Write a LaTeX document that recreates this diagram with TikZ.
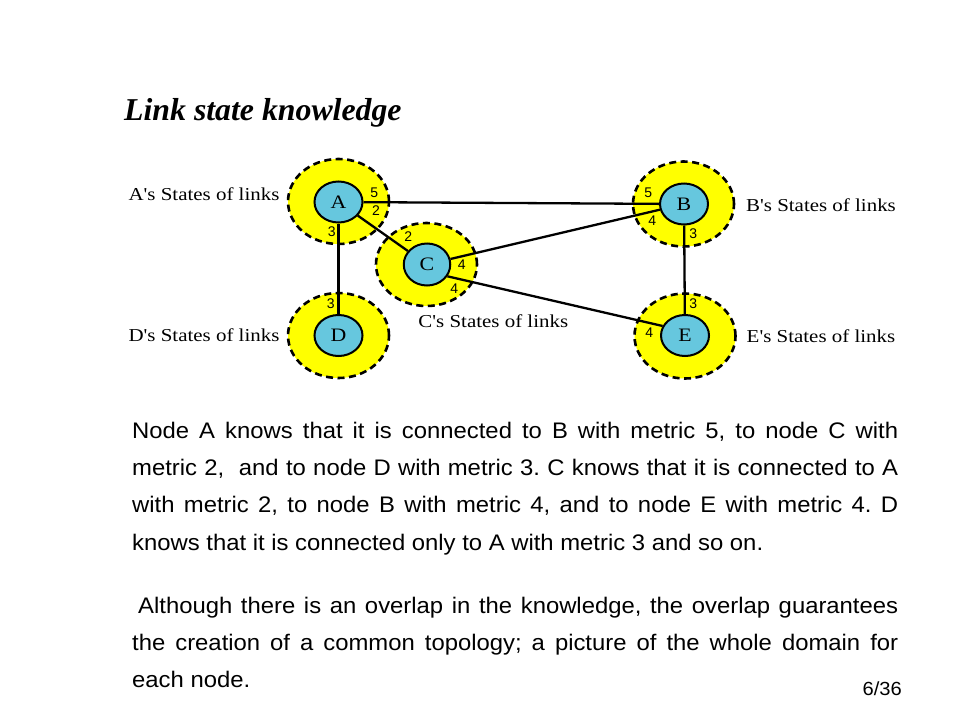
\documentclass[tikz,border=0pt]{standalone}
\usepackage{fontspec}
\setmainfont{Liberation Sans}
\newfontfamily\bodyfont[FakeStretch=1.06]{Liberation Sans}
\newfontfamily\figserif[FakeStretch=1.15, Ligatures=TeXOff]{Liberation Serif}
\newfontfamily\figsans{Liberation Sans}
\newfontfamily\titlefont{Liberation Serif}
\usetikzlibrary{shapes.geometric}

\definecolor{zoneyellow}{RGB}{255,255,0}
\definecolor{routerblue}{RGB}{102,199,222}

\begin{document}
\frenchspacing
\begin{tikzpicture}[x=1pt,y=-1pt,
  zone/.style={ellipse, fill=zoneyellow, draw=black, line width=2.6pt,
    dash pattern=on 7pt off 4.5pt, inner sep=0pt,
    minimum width=101pt, minimum height=85pt},
  router/.style={ellipse, fill=routerblue, draw=black, line width=2pt,
    minimum width=48pt, minimum height=41pt, inner sep=0pt,
    font=\figserif\fontsize{19}{19}\selectfont},
  link/.style={line width=2.3pt},
  metric/.style={font=\figsans\fontsize{14}{14}\selectfont, inner sep=0pt},
  statelabel/.style={font=\figserif\fontsize{18.2}{19}\selectfont, inner sep=0pt},
  bodytext/.style={anchor=north west, inner sep=0pt, text width=766pt,
    align=justify, font=\bodyfont\fontsize{22.5}{37.3}\selectfont},
]
\useasboundingbox (0,0) rectangle (960,720);
\fill[white] (0,0) rectangle (960,720);

% title
\node[anchor=base west, inner sep=0pt,
  font=\titlefont\bfseries\itshape\fontsize{31.8}{31.8}\selectfont]
  (title) at (124,120) {Link state knowledge};

% yellow knowledge zones
\node[zone] (zA) at (338.5,201.5) {};
\node[zone] (zB) at (683.5,204) {};
\node[zone, minimum height=83pt] (zC) at (426.5,264.5) {};
\node[zone] (zD) at (338.5,335.5) {};
\node[zone] (zE) at (685,336) {};

% routers
\node[router] (A) at (338.5,202) {A};
\node[router] (B) at (684,204) {B};
\node[router, minimum width=46.5pt, minimum height=42pt] (C) at (427,264.5) {C};
\node[router] (D) at (338.5,335.5) {D};
\node[router] (E) at (685,335.5) {E};

% links
\draw[link] (A) -- (B);
\draw[link] (A) -- (C);
\draw[link] (A) -- (D);
\draw[link] (C) -- (B);
\draw[link] (C.-30) -- (E.157);
\draw[link] (B) -- (E);

% link metrics
\node[metric] (mAB) at (374.3,192.7) {5};
\node[metric] (mAC) at (376,211) {2};
\node[metric] (mAD) at (331.7,231.7) {3};
\node[metric] (mCA) at (408.3,236.7) {2};
\node[metric] (mCB) at (461.7,265) {4};
\node[metric] (mCE) at (454.3,288.3) {4};
\node[metric] (mBA) at (648.3,192.7) {5};
\node[metric] (mBC) at (652.3,221) {4};
\node[metric] (mBE) at (693.3,233.3) {3};
\node[metric] (mEB) at (693.3,303.3) {3};
\node[metric] (mEC) at (649.3,332.7) {4};
\node[metric] (mDA) at (330.7,304) {3};

% state labels
\node[statelabel] (sA) at (204,194.5) {A's States of links};
\node[statelabel] (sB) at (821,205) {B's States of links};
\node[statelabel] (sC) at (493.3,321) {C's States of links};
\node[statelabel] (sD) at (204,335) {D's States of links};
\node[statelabel] (sE) at (821,336) {E's States of links};

% explanation
\node[bodytext] (p1) at (132,411.9) {\strut Node A knows that it is connected to B with metric 5, to node C with\linebreak
metric 2,\ \ and to node D with metric 3. C knows that it is connected to A\linebreak
with metric 2, to node B with metric 4, and to node E with metric 4. D\linebreak
knows that it is connected only to A with metric 3 and so on.};

\node[bodytext] (p2) at (132,586.9) {\strut\hspace*{6pt}Although there is an overlap in the knowledge, the overlap guarantees\linebreak
the creation of a common topology; a picture of the whole domain for\linebreak
each node.};

% page number
\node[anchor=base east, inner sep=0pt, font=\bodyfont\fontsize{19}{19}\selectfont]
  (page) at (902,695) {6/36};
\end{tikzpicture}
\end{document}
